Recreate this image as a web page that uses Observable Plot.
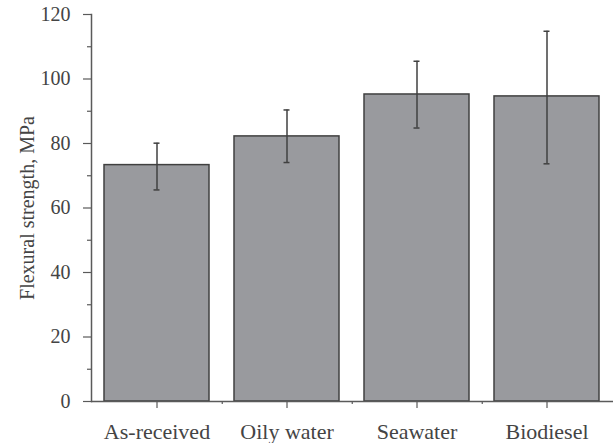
<!DOCTYPE html>
<html>
<head>
<meta charset="utf-8">
<script src="https://cdn.jsdelivr.net/npm/d3@7"></script>
<script src="https://cdn.jsdelivr.net/npm/@observablehq/plot@0.6"></script>
<style>
  html, body { margin: 0; padding: 0; background: #fff; }
  #chart { width: 613px; height: 443px; }
</style>
</head>
<body>
<div id="chart"></div>
<script>
// Flexural strength after conditioning in different media
const conditions = ["As-received", "Oily water", "Seawater", "Biodiesel"];
const strength = [73.3, 82.2, 95.2, 94.6];   // mean, MPa
const errLow   = [65.6, 74.1, 84.8, 73.7];   // lower end of error bar, MPa
const errHigh  = [80.1, 90.4, 105.5, 114.8]; // upper end of error bar, MPa
const majorTicks = [0, 20, 40, 60, 80, 100, 120];
const minorTicks = [10, 30, 50, 70, 90, 110];

const rows = conditions.map((c, i) => ({c, v: strength[i], lo: errLow[i], hi: errHigh[i]}));

const W = 613, H = 443;
const mLeft = 91, mRight = 0;
const step = (W - mLeft - mRight) / conditions.length;
const font = "'Liberation Serif', 'Times New Roman', serif";
const axisColor = "#5a5a5a";
const barEdge = "#404040";

const chart = Plot.plot({
  width: W,
  height: H,
  marginLeft: mLeft,
  marginRight: mRight,
  marginTop: 14,
  marginBottom: 42,
  style: {fontFamily: font, fontSize: "20px", color: "#444", background: "#fff"},
  x: {domain: conditions, paddingInner: 0.19, paddingOuter: 0.095},
  y: {domain: [0, 120]},
  marks: [
    Plot.barY(rows, {x: "c", y: "v", fill: "#999a9e", stroke: barEdge, strokeWidth: 1.5}),
    // error bars
    Plot.ruleX(rows, {x: "c", y1: "lo", y2: "hi", stroke: barEdge, strokeWidth: 1.5}),
    Plot.tickY(rows, {x: "c", y: "lo", stroke: barEdge, strokeWidth: 1.5, insetLeft: 49.5, insetRight: 49.5}),
    Plot.tickY(rows, {x: "c", y: "hi", stroke: barEdge, strokeWidth: 1.5, insetLeft: 49.5, insetRight: 49.5}),
    // axis lines
    Plot.frame({anchor: "left", stroke: axisColor, strokeWidth: 1.5}),
    Plot.ruleY([0], {stroke: axisColor, strokeWidth: 1.5}),
    // short ticks between categories
    Plot.ruleX(conditions.slice(0, -1), {x: d => d, y1: 0, y2: 0, dx: step / 2, insetBottom: -3, stroke: axisColor, strokeWidth: 1.2}),
    Plot.axisY({ticks: majorTicks, tickSize: 8, tickPadding: 13, stroke: axisColor, strokeWidth: 1.2,
      fontSize: 20, label: "Flexural strength, MPa", labelAnchor: "center", labelArrow: "none", labelOffset: 72}),
    Plot.axisY({ticks: minorTicks, tickSize: 4, stroke: axisColor, strokeWidth: 1.2, text: null, label: null}),
    Plot.axisX({tickSize: 7, tickPadding: 15, stroke: axisColor, strokeWidth: 1.2, fontSize: 22, label: null})
  ]
});
document.getElementById("chart").appendChild(chart);
</script>
</body>
</html>
